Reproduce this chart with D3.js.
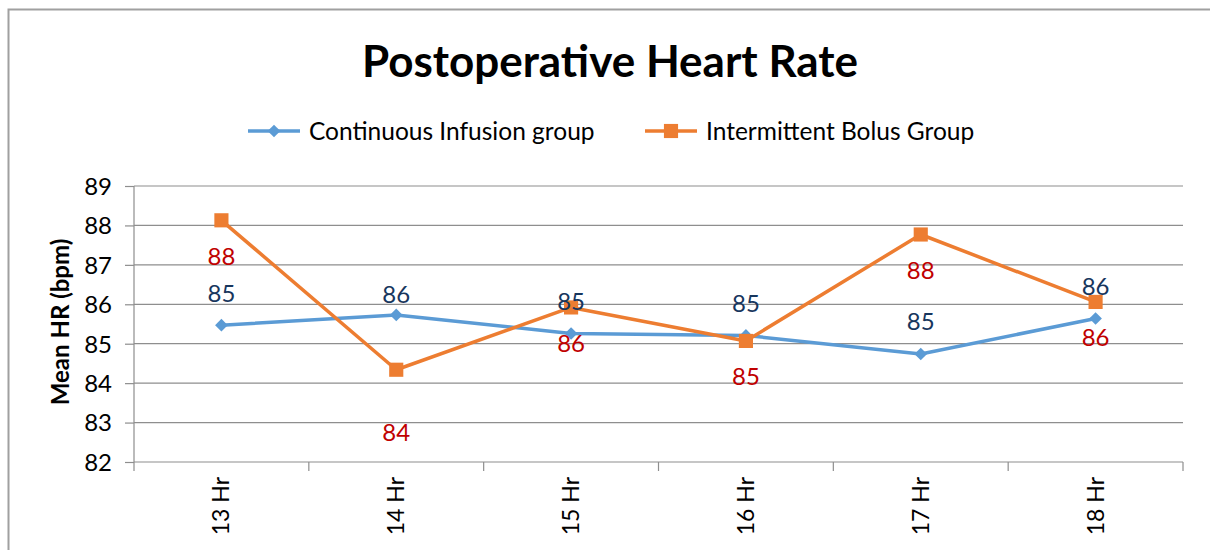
<!DOCTYPE html>
<html>
<head>
<meta charset="utf-8">
<script src="https://cdn.jsdelivr.net/npm/d3@7"></script>
<style>
  body { margin: 0; background: #fff; }
  svg text { font-family: Lato, "Noto Sans", sans-serif; }
</style>
</head>
<body>
<div id="chart"></div>
<script>
// chart data
var categories = ["13 Hr", "14 Hr", "15 Hr", "16 Hr", "17 Hr", "18 Hr"];
var continuousValues = [85.47, 85.73, 85.26, 85.21, 84.74, 85.64];
var bolusValues = [88.13, 84.34, 85.92, 85.07, 87.77, 86.06];
var continuousLabels = ["85", "86", "85", "85", "85", "86"];
var bolusLabels = ["88", "84", "86", "85", "88", "86"];
var yTicks = [82, 83, 84, 85, 86, 87, 88, 89];
// manual nudges of the data labels (px), as in the original
var continuousLabelShift = [0, 12, 0, 0, 0, 0];
var bolusLabelShift = [0, 27, 0, 0, 0, 0];

var width = 1210, height = 550;
var margin = {top: 186, right: 27, bottom: 88, left: 134};
var innerW = width - margin.left - margin.right;
var innerH = height - margin.top - margin.bottom;

var svg = d3.select("#chart").append("svg")
	.attr("width", width)
	.attr("height", height);

//outer frame (cropped on the right and bottom)
svg.append("path")
	.attr("d", "M8.5,550 L8.5,9.5 L1210,9.5")
	.attr("fill", "none")
	.attr("stroke", "#a0a0a0")
	.attr("stroke-width", 2);

//title
svg.append("text")
	.attr("x", 610)
	.attr("y", 77)
	.attr("text-anchor", "middle")
	.style("font-size", "44px")
	.style("font-weight", "bold")
	.text("Postoperative Heart Rate");

var g = svg.append("g")
	.attr("transform", "translate(" + margin.left + "," + margin.top + ")");

var x = d3.scalePoint().domain(categories).range([0, innerW]).padding(0.5);
var band = innerW / categories.length;
var y = d3.scaleLinear().domain([82, 89]).range([innerH, 0]);

//gridlines
g.append("g")
	.selectAll("line")
	.data(yTicks.slice(1))
	.enter().append("line")
	.attr("x1", 0)
	.attr("x2", innerW)
	.attr("y1", function(d) { return y(d); })
	.attr("y2", function(d) { return y(d); })
	.attr("stroke", "#8e8e8e")
	.attr("stroke-width", 1.2);

//y axis
var yAxis = g.append("g")
	.call(d3.axisLeft(y).tickValues(yTicks).tickSize(9).tickPadding(13).tickFormat(d3.format("d")));
yAxis.select(".domain").attr("stroke", "#8e8e8e").attr("stroke-width", 1.2).attr("d", "M0,0V" + innerH);
yAxis.selectAll(".tick line").attr("stroke", "#8e8e8e").attr("stroke-width", 1.2);
yAxis.selectAll(".tick text")
	.style("font-size", "24px")
	.attr("fill", "#000")
	.attr("dy", "0.35em");

//x axis
var xAxisG = g.append("g").attr("transform", "translate(0," + innerH + ")");
xAxisG.append("line")
	.attr("x1", 0).attr("x2", innerW)
	.attr("stroke", "#8e8e8e").attr("stroke-width", 1.2);
xAxisG.selectAll("line.tick")
	.data(d3.range(categories.length + 1))
	.enter().append("line")
	.attr("class", "tick")
	.attr("x1", function(i) { return i * band; })
	.attr("x2", function(i) { return i * band; })
	.attr("y1", 0).attr("y2", 9)
	.attr("stroke", "#8e8e8e").attr("stroke-width", 1.2);
xAxisG.selectAll("text")
	.data(categories)
	.enter().append("text")
	.attr("transform", function(d) { return "translate(" + x(d) + ",15) rotate(-90)"; })
	.attr("text-anchor", "end")
	.attr("dy", "0.35em")
	.style("font-size", "23px")
	.text(function(d) { return d; });

//y axis title
svg.append("text")
	.attr("transform", "translate(61," + (margin.top + innerH / 2 - 2) + ") rotate(-90)")
	.attr("text-anchor", "middle")
	.attr("dy", "0.35em")
	.style("font-size", "24px")
	.style("font-weight", "bold")
	.text("Mean HR (bpm)");

//diamond = square turned 45 degrees
var series = [
	{name: "Continuous Infusion group", values: continuousValues, labels: continuousLabels,
		shift: continuousLabelShift, color: "#5B9BD5", labelColor: "#17365D", size: 80, rot: 45, above: true},
	{name: "Intermittent Bolus Group", values: bolusValues, labels: bolusLabels,
		shift: bolusLabelShift, color: "#ED7D31", labelColor: "#C00000", size: 200, rot: 0, above: false}
];

var line = d3.line()
	.x(function(d, i) { return x(categories[i]); })
	.y(function(d) { return y(d); });

series.forEach(function(s) {
	var sg = g.append("g");
	sg.append("path")
		.attr("d", line(s.values))
		.attr("fill", "none")
		.attr("stroke", s.color)
		.attr("stroke-width", 3.5)
		.attr("stroke-linejoin", "round");
	sg.selectAll("path.marker")
		.data(s.values)
		.enter().append("path")
		.attr("class", "marker")
		.attr("transform", function(d, i) {
			return "translate(" + x(categories[i]) + "," + y(d) + ") rotate(" + s.rot + ")";
		})
		.attr("d", d3.symbol().type(d3.symbolSquare).size(s.size))
		.attr("fill", s.color);
});

//data labels drawn on top
series.forEach(function(s) {
	g.append("g").selectAll("text")
		.data(s.values)
		.enter().append("text")
		.attr("x", function(d, i) { return x(categories[i]); })
		.attr("y", function(d, i) { return y(d) + (s.above ? -32 + s.shift[i] : 36 + s.shift[i]); })
		.attr("text-anchor", "middle")
		.attr("dy", "0.35em")
		.attr("fill", s.labelColor)
		.style("font-size", "24px")
		.text(function(d, i) { return s.labels[i]; });
});

//legend
var legendPos = [{lx: 248, tx: 309}, {lx: 645, tx: 706}];
series.forEach(function(s, i) {
	var lg = svg.append("g").attr("transform", "translate(" + legendPos[i].lx + ",131)");
	lg.append("line")
		.attr("x1", 0).attr("x2", 52)
		.attr("stroke", s.color).attr("stroke-width", 3.5);
	lg.append("path")
		.attr("transform", "translate(26,0) rotate(" + s.rot + ")")
		.attr("d", d3.symbol().type(d3.symbolSquare).size(s.size))
		.attr("fill", s.color);
	svg.append("text")
		.attr("x", legendPos[i].tx)
		.attr("y", 131)
		.attr("dy", "0.35em")
		.style("font-size", "24.5px")
		.text(s.name);
});
</script>
</body>
</html>
